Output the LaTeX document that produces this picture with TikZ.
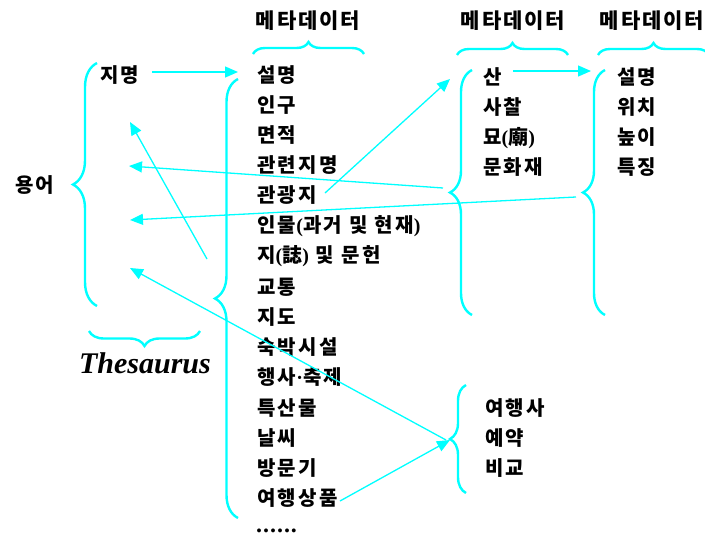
\documentclass[tikz,border=0pt]{standalone}
\usepackage{fontspec}
\newfontfamily\kr{Noto Sans CJK KR}
\newfontfamily\tms{Liberation Serif}
\usetikzlibrary{decorations.pathreplacing,arrows.meta}
\definecolor{cy}{RGB}{0,255,255}
\newcommand{\pp}[1]{{\tms\bfseries #1}}
\tikzset{
  itm/.style={anchor=base west, inner sep=0pt, font=\kr\bfseries\fontsize{20}{20}\selectfont\addfontfeature{LetterSpace=12}},
  hdr/.style={anchor=base, inner sep=0pt, font=\kr\bfseries\fontsize{21}{21}\selectfont\addfontfeature{LetterSpace=9}},
  br/.style={cy, line width=2.4pt, decorate, decoration={brace, amplitude=#1}},
  arr/.style={cy, line width=1.3pt, -{Triangle[length=13pt,width=11pt]}}
}
\begin{document}
\begin{tikzpicture}[x=1pt,y=-1pt]
\useasboundingbox (0,0) rectangle (705,536);
% headers
\node[hdr] (h1) at (308,28) {메타데이터};
\node[hdr] (h2) at (513,28) {메타데이터};
\node[hdr] (h3) at (652,28) {메타데이터};
% top braces
\draw[br=12pt] (253,54) -- (364,54);
\draw[br=12pt] (457,55) -- (568,55);
\begin{scope}
\clip (0,0) rectangle (705,536);
\draw[br=12pt] (598,55) -- (709,55);
\end{scope}
% left part
\node[itm] (yong) at (15,192) {용어};
\node[itm] (jm) at (100,82) {지명};
\draw[br=24pt] (97,306) -- (97,63);
\coordinate (tipL) at (73,184);
\draw[br=15pt] (200,331) -- (89,331);
\node[anchor=base, inner sep=0pt, font=\tms\bfseries\itshape\fontsize{30}{30}\selectfont] (thes) at (145,373) {Thesaurus};
% column 1
\draw[br=23pt] (238,518) -- (238,79);
\node[itm] (c1a) at (257,82) {설명};
\node[itm] (c1b) at (257,112) {인구};
\node[itm] (c1c) at (257,142) {면적};
\node[itm] (c1d) at (257,172) {관련지명};
\node[itm] (c1e) at (257,202) {관광지};
\node[itm] (c1f) at (257,232) {인물\pp{(}과거 및 현재\pp{)}};
\node[itm] (c1g) at (257,262) {지\pp{(}誌\pp{)} 및 문헌};
\node[itm] (c1h) at (257,294) {교통};
\node[itm] (c1i) at (257,324) {지도};
\node[itm] (c1j) at (257,354) {숙박시설};
\node[itm] (c1k) at (257,384) {행사\pp{·}축제};
\node[itm] (c1l) at (257,415) {특산물};
\node[itm] (c1m) at (257,445) {날씨};
\node[itm] (c1n) at (257,475) {방문기};
\node[itm] (c1o) at (257,505) {여행상품};
\node[anchor=base west, inner sep=0pt, font=\tms\bfseries\fontsize{24}{24}\selectfont\addfontfeature{LetterSpace=4}] (dots) at (256,532) {......};
% column 2
\draw[br=22pt] (472,315) -- (472,70);
\coordinate (tip2) at (450,192);
\node[itm] (c2a) at (483,84) {산};
\node[itm] (c2b) at (483,114) {사찰};
\node[itm] (c2c) at (483,144) {묘\pp{(}廟\pp{)}};
\node[itm] (c2d) at (483,174) {문화재};
% column 3
\draw[br=22pt] (605,315) -- (605,70);
\coordinate (tip3) at (583,193);
\node[itm] (c3a) at (617,84) {설명};
\node[itm] (c3b) at (617,114) {위치};
\node[itm] (c3c) at (617,144) {높이};
\node[itm] (c3d) at (617,174) {특징};
% bottom right
\draw[br=16pt] (466,493) -- (466,385);
\coordinate (tip4) at (450,439);
\node[itm] (c4a) at (485,415) {여행사};
\node[itm] (c4b) at (485,445) {예약};
\node[itm] (c4c) at (485,475) {비교};
% arrow endpoints
\coordinate (a1s) at (152,72);
\coordinate (a1e) at (238,72);
\coordinate (a2s) at (513,71);
\coordinate (a2e) at (591,71);
\coordinate (a3s) at (325,193);
\coordinate (a3e) at (450,79);
\coordinate (a4s) at (443,188);
\coordinate (a4e) at (129,166);
\coordinate (a5s) at (576,197);
\coordinate (a5e) at (130,220);
\coordinate (a6s) at (207,259);
\coordinate (a6e) at (130,122);
\coordinate (a7s) at (446,440);
\coordinate (a7e) at (130,268);
\coordinate (a8s) at (340,501);
\coordinate (a8e) at (450,440);
\draw[arr] (a1s) -- (a1e);
\draw[arr] (a2s) -- (a2e);
\draw[arr] (a3s) -- (a3e);
\draw[arr] (a4s) -- (a4e);
\draw[arr] (a5s) -- (a5e);
\draw[arr] (a6s) -- (a6e);
\draw[arr] (a7s) -- (a7e);
\draw[arr] (a8s) -- (a8e);
\end{tikzpicture}
\end{document}
